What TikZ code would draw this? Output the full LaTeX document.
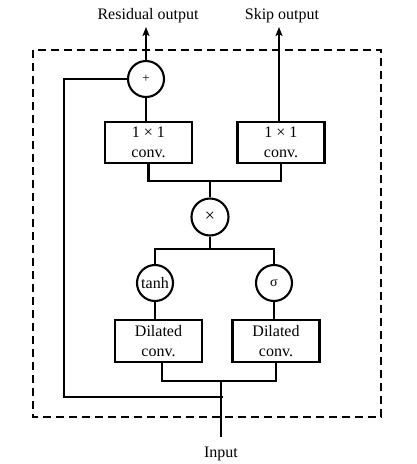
\documentclass[tikz,border=0pt]{standalone}
\usepackage{fontspec}
\setmainfont{Liberation Serif}
\usetikzlibrary{arrows.meta}
\begin{document}
\begin{tikzpicture}[x=1pt,y=-1pt,
  every node/.style={font=\fontsize{16}{20}\selectfont, inner sep=0pt},
  conn/.style={line width=2.1pt},
  arr/.style={line width=2.1pt,-{Stealth[length=9pt,width=7pt,inset=2pt]}},
  opcirc/.style={draw,circle,line width=2.1pt,minimum size=36pt},
  convbox/.style={draw,rectangle,line width=2.1pt,minimum width=87pt,minimum height=41pt,align=center},
  dashbox/.style={line width=2.1pt,dash pattern=on 8pt off 5pt}]
\useasboundingbox (0,0) rectangle (416,464);
\draw[dashbox] (33,50) rectangle (381,417);
% nodes
\node[opcirc] (plus) at (146,79) {\fontsize{13}{13}\selectfont +};
\node[convbox] (c1l) at (148.5,142.5) {1 × 1\\conv.};
\node[convbox] (c1r) at (281,142.5) {1 × 1\\conv.};
\node[opcirc,minimum size=37pt] (mult) at (210,217) {\fontsize{18}{18}\selectfont ×};
\node[opcirc] (tanh) at (155,283) {tanh};
\node[opcirc] (sig) at (274,283) {\fontsize{14}{14}\selectfont σ};
\node[convbox,minimum height=42pt] (dl) at (158.5,341) {Dilated\\conv.};
\node[convbox,minimum height=42pt] (dr) at (276,341) {Dilated\\conv.};
\node[anchor=base] (res) at (148,19) {Residual output};
\node[anchor=base] (skip) at (282,19) {Skip output};
\node[anchor=base] (inp) at (221,457) {Input};
% coordinates
\coordinate (resend) at (146,27);
\coordinate (skipend) at (279,27);
\coordinate (j1) at (210,181);
\coordinate (j2) at (210,249);
\coordinate (j3) at (221,381);
\coordinate (inend) at (221,437);
\coordinate (lp) at (64,397);
\coordinate (j4) at (223,397);
% connectors
\draw[arr] (plus.north) -- (resend);
\draw[arr] (c1r.north -| skipend) -- (skipend);
\draw[conn] (plus.south) -- (plus.south |- c1l.north);
\draw[conn] (c1l.south) |- (j1) -| (c1r.south);
\draw[conn] (j1) -- (mult.north);
\draw[conn] (mult.south) -- (j2);
\draw[conn] (tanh.north) |- (j2) -| (sig.north);
\draw[conn] (tanh.south) -- (tanh.south |- dl.north);
\draw[conn] (sig.south) -- (sig.south |- dr.north);
\draw[conn] ([xshift=3.5pt]dl.south) |- (j3) -| (dr.south);
\draw[conn] (inend) -- (j3);
\draw[conn] (plus.west) -| (lp) -- (j4);
\end{tikzpicture}
\end{document}
